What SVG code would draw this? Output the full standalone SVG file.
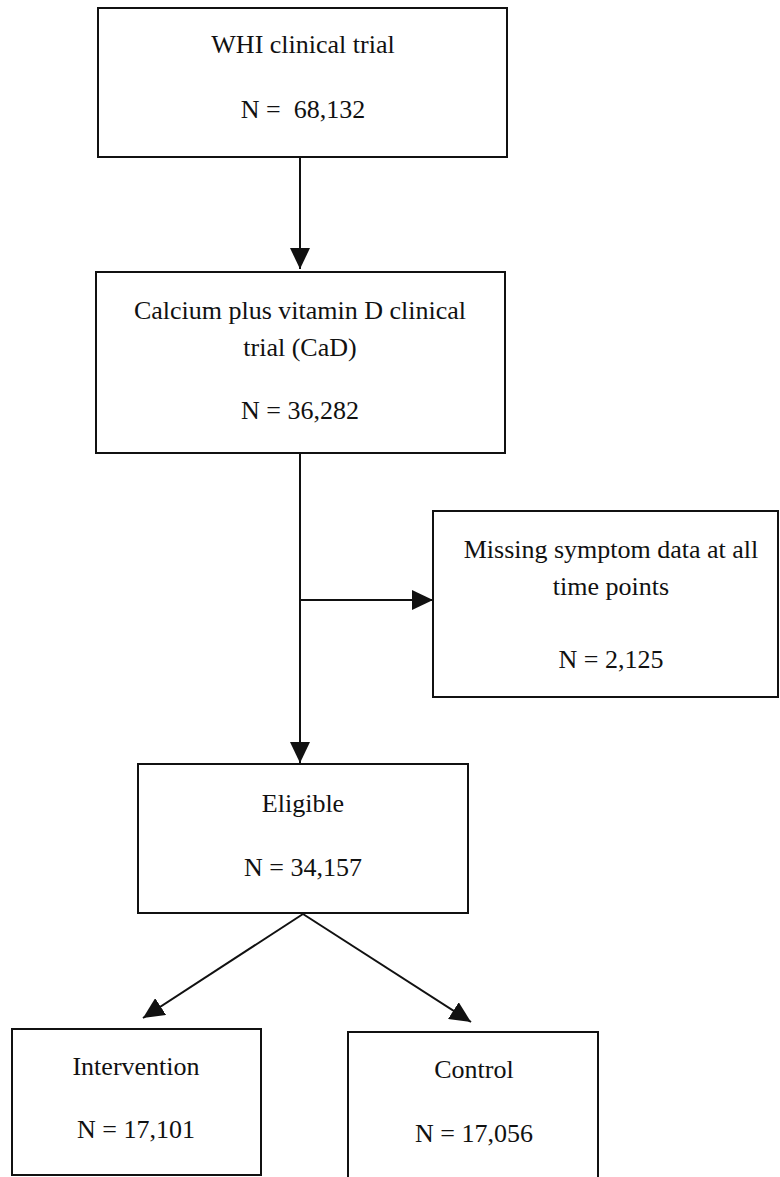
<svg xmlns="http://www.w3.org/2000/svg" width="780" height="1177" viewBox="0 0 780 1177">
<style>
.box{fill:#fff;stroke:#111;stroke-width:2}
.t{font-family:"Liberation Serif","Times New Roman",serif;font-size:26px;fill:#111;text-anchor:middle}
.c{stroke:#111;stroke-width:2;fill:none}
</style>
<defs>
<marker id="arr" viewBox="0 0 21 20" refX="21" refY="10" markerWidth="21" markerHeight="20" orient="auto" markerUnits="userSpaceOnUse">
<path d="M0,0 L21,10 L0,20 Z" fill="#111"/>
</marker>
</defs>
<rect width="780" height="1177" fill="#fff"/>
<g id="connectors">
<line class="c" x1="300" y1="157" x2="300" y2="269" marker-end="url(#arr)"/>
<line class="c" x1="300" y1="453" x2="300" y2="763" marker-end="url(#arr)"/>
<line class="c" x1="300" y1="600" x2="433" y2="600" marker-end="url(#arr)"/>
<line class="c" x1="303" y1="914" x2="143" y2="1018" marker-end="url(#arr)"/>
<line class="c" x1="303" y1="914" x2="471" y2="1022" marker-end="url(#arr)"/>
</g>
<g id="n1">
<rect class="box" x="98" y="8" width="409" height="149"/>
<text class="t" x="303" y="53">WHI clinical trial</text>
<text class="t" x="303" y="118">N =&#160; 68,132</text>
</g>
<g id="n2">
<rect class="box" x="96" y="272" width="409" height="181"/>
<text class="t" x="300" y="319">Calcium plus vitamin D clinical</text>
<text class="t" x="300" y="356">trial (CaD)</text>
<text class="t" x="300" y="419">N = 36,282</text>
</g>
<g id="n3">
<rect class="box" x="433" y="511" width="345" height="186"/>
<text class="t" x="611" y="558">Missing symptom data at all</text>
<text class="t" x="611" y="595">time points</text>
<text class="t" x="611" y="668">N = 2,125</text>
</g>
<g id="n4">
<rect class="box" x="138" y="764" width="330" height="149"/>
<text class="t" x="303" y="812">Eligible</text>
<text class="t" x="303" y="876">N = 34,157</text>
</g>
<g id="n5">
<rect class="box" x="12" y="1029" width="249" height="146"/>
<text class="t" x="136" y="1075">Intervention</text>
<text class="t" x="136" y="1138">N = 17,101</text>
</g>
<g id="n6">
<rect class="box" x="348" y="1032" width="250" height="170"/>
<text class="t" x="474" y="1078">Control</text>
<text class="t" x="474" y="1142">N = 17,056</text>
</g>
</svg>
